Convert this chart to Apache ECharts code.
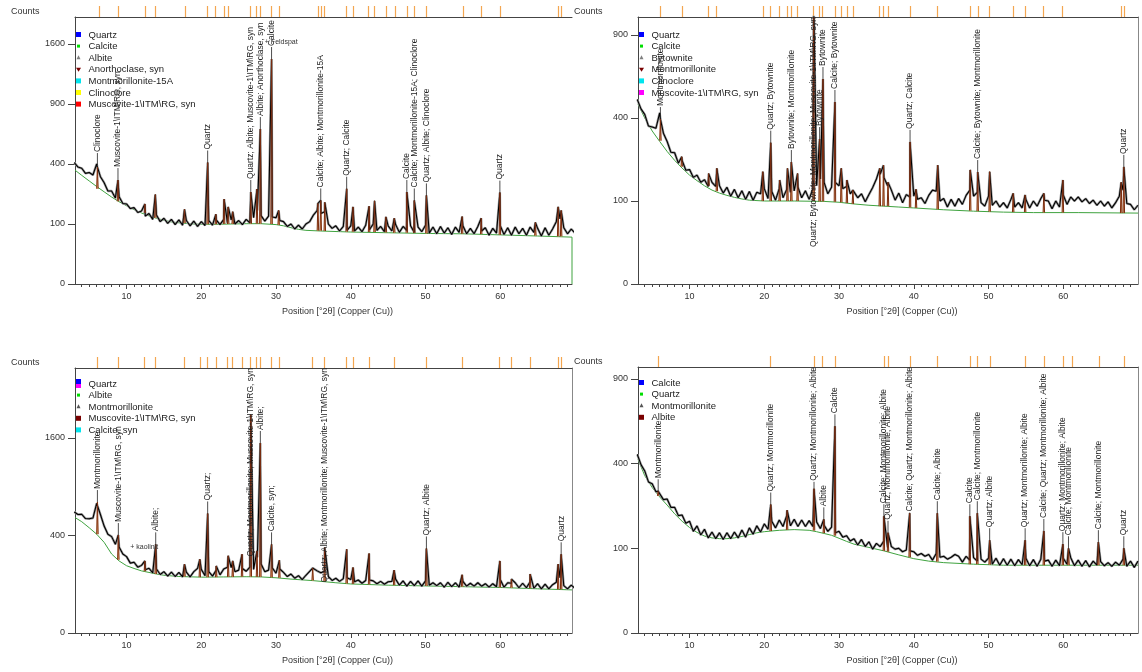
<!DOCTYPE html>
<html>
<head>
<meta charset="utf-8">
<title>XRD patterns</title>
<script src="https://cdn.jsdelivr.net/npm/echarts@6/dist/echarts.min.js"></script>
<style>
  html, body { margin: 0; padding: 0; background: #fff; }
  #chart { width: 1142px; height: 672px; }
</style>
</head>
<body>
<div id="chart"></div>
<script>
// ---- data -------------------------------------------------------------
// measured profiles, one value every 0.5 deg from 3.0 to 70.0 deg 2theta (counts)
var profileStart = 3.0, profileStep = 0.5;

var profile1 = [
  410, 380, 372, 340, 345, 330, 400, 320, 285, 240,
  240, 205, 212, 180, 178, 158, 162, 142, 148, 128,
  138, 116, 132, 108, 120, 102, 116, 98, 114, 96,
  112, 94, 110, 92, 108, 95, 112, 96, 114, 98,
  116, 104, 114, 100, 112, 98, 116, 104, 122, 150,
  130, 110, 128, 125, 122, 112, 108, 92, 100, 84,
  96, 84, 100, 108, 132, 150, 138, 145, 100, 86,
  94, 78, 92, 80, 94, 78, 90, 76, 96, 82,
  100, 80, 92, 76, 94, 78, 98, 74, 92, 80,
  94, 74, 90, 76, 96, 72, 90, 70, 92, 72,
  88, 68, 90, 74, 94, 70, 86, 70, 92, 78,
  88, 66, 86, 72, 94, 68, 88, 66, 90, 70,
  86, 66, 90, 74, 86, 64, 88, 66, 84, 108,
  118, 88, 70, 84, 72
];
var profile2 = [
  495, 445, 418, 362, 358, 352, 425, 330, 295, 252,
  250, 212, 222, 188, 190, 165, 172, 150, 158, 138,
  150, 138, 140, 120, 136, 112, 130, 108, 126, 104,
  124, 102, 122, 118, 132, 106, 124, 102, 132, 108,
  130, 122, 126, 136, 108, 126, 104, 132, 140, 160,
  150, 118, 136, 150, 140, 132, 138, 118, 132, 108,
  118, 98, 116, 135, 160, 175, 165, 140, 128, 102,
  120, 96, 116, 110, 112, 104, 108, 94, 114, 128,
  125, 100, 106, 86, 104, 88, 106, 92, 114, 128,
  112, 122, 96, 88, 112, 90, 100, 86, 96, 84,
  104, 86, 96, 84, 104, 84, 100, 88, 106, 102,
  100, 82, 100, 86, 115, 92, 110, 100, 110, 98,
  106, 94, 102, 90, 100, 88, 98, 84, 96, 112,
  128, 94, 92, 80, 90
];
var profile3 = [
  615, 590, 592, 550, 548, 555, 705, 590, 480, 410,
  390, 330, 310, 262, 245, 205, 210, 182, 192, 168,
  176, 152, 172, 144, 158, 136, 156, 134, 154, 132,
  156, 132, 158, 175, 170, 138, 158, 136, 166, 142,
  172, 182, 180, 158, 166, 175, 160, 182, 170, 240,
  200, 158, 166, 178, 150, 172, 154, 134, 146, 126,
  138, 120, 140, 160, 178, 162, 152, 160, 134, 116,
  126, 112, 124, 128, 120, 110, 118, 104, 116, 118,
  114, 102, 112, 100, 110, 112, 122, 96, 114, 92,
  112, 94, 114, 92, 114, 96, 106, 94, 106, 88,
  108, 90, 106, 88, 112, 92, 104, 92, 106, 92,
  102, 88, 102, 90, 120, 88, 106, 104, 106, 86,
  104, 86, 110, 84, 102, 82, 100, 82, 98, 108,
  128, 94, 82, 96, 84
];
var profile4 = [
  445, 395, 366, 318, 310, 278, 276, 248, 250, 220,
  220, 192, 194, 168, 174, 144, 160, 134, 150, 126,
  142, 124, 140, 122, 140, 124, 142, 126, 148, 128,
  154, 136, 160, 142, 166, 150, 174, 154, 178, 158,
  192, 160, 180, 158, 178, 158, 176, 158, 172, 152,
  162, 144, 156, 140, 144, 128, 132, 118, 124, 108,
  122, 104, 116, 98, 112, 104, 118, 102, 104, 98,
  100, 92, 96, 94, 92, 84, 88, 82, 86, 74,
  88, 80, 82, 76, 80, 86, 82, 70, 82, 74,
  79, 72, 76, 70, 78, 66, 78, 64, 77, 64,
  76, 63, 75, 65, 78, 63, 75, 62, 76, 72,
  74, 62, 74, 63, 78, 66, 79, 63, 74, 62,
  73, 61, 72, 64, 71, 63, 69, 62, 70, 64,
  76, 62, 72, 60, 72
];

// fitted background [deg, counts]
var bg1 = [[3.1, 360], [4, 328], [5, 295], [6, 264], [7, 236], [8, 210], [9, 188], [10, 170], [11, 154], [12, 140],
  [13, 129], [14, 120], [15, 113], [16, 107], [17, 104], [18, 102], [19, 100], [20, 99], [22, 99], [24, 100],
  [26, 101], [28, 101], [30, 98], [31, 94], [32, 88], [33, 83], [34, 80], [36, 78], [40, 75], [45, 73],
  [50, 71], [55, 70], [60, 67], [65, 64], [69.6, 61], [69.6, 0]];
var bg2 = [[3.1, 470], [4, 400], [5, 340], [6, 295], [7, 255], [8, 222], [9, 195], [10, 172], [11, 155], [12, 140],
  [13, 128], [14, 120], [15, 114], [16, 109], [17, 105], [18, 102], [20, 100], [24, 100], [28, 99], [30, 97],
  [32, 93], [34, 90], [36, 88], [38, 86], [40, 84], [44, 80], [48, 77], [52, 75], [56, 74], [62, 74], [70, 73]];
var bg3 = [[3.1, 560], [4, 520], [5, 465], [6, 410], [7, 345], [8, 262], [9, 218], [10, 190], [11, 175], [12, 162],
  [13, 154], [14, 146], [15, 140], [17, 134], [20, 131], [23, 132], [26, 133], [28, 132], [30, 128], [32, 122],
  [35, 115], [38, 106], [40, 101], [45, 96], [50, 93], [55, 90], [60, 87], [65, 82], [69.6, 78]];
var bg4 = [[3.1, 420], [4, 345], [5, 295], [6, 258], [7, 228], [8, 198], [9, 174], [10, 155], [11, 141], [12, 131],
  [13, 126], [14, 124], [15, 124], [16, 126], [17, 130], [18, 135], [19, 140], [20, 143], [22, 147], [24, 149],
  [26, 147], [27, 143], [28, 138], [29, 133], [30, 125], [31, 117], [32, 110], [34, 102], [36, 94], [38, 85],
  [40, 77], [42, 72], [44, 69], [48, 66], [52, 64], [60, 64], [70, 64]];

// peak list [deg, background counts, peak counts]
var peaks1 = [[6.1, 252, 380], [8.85, 190, 300], [12.45, 140, 178], [13.85, 122, 222], [17.75, 103, 155],
  [20.85, 99, 410], [21.95, 99, 135], [23.05, 100, 200], [23.6, 100, 165], [24.2, 100, 145],
  [26.62, 101, 235], [27.45, 101, 250], [27.9, 101, 667], [29.4, 100, 1406], [30.35, 97, 150],
  [35.6, 79, 180], [35.98, 79, 194], [36.52, 78, 185], [39.45, 76, 252], [40.3, 76, 165],
  [42.45, 75, 168], [43.18, 75, 192], [44.7, 74, 125], [45.82, 73, 120], [47.5, 73, 235],
  [48.5, 72, 194], [50.12, 71, 218], [54.9, 70, 126], [57.45, 69, 120], [59.95, 67, 232],
  [64.7, 65, 105], [67.75, 63, 165], [68.15, 63, 150]];
var peaks2 = [[6.1, 298, 395], [8.95, 200, 235], [12.55, 140, 177], [13.65, 125, 194], [19.8, 100, 183],
  [20.86, 100, 290], [22.05, 100, 157], [23.1, 100, 194], [23.62, 100, 216], [24.45, 100, 177],
  [26.6, 100, 1200], [27.4, 99, 305], [27.85, 99, 610], [29.45, 98, 481], [30.3, 97, 194],
  [31.05, 95, 157], [31.85, 93, 128], [35.45, 88, 194], [35.95, 88, 205], [36.55, 88, 150],
  [39.5, 85, 293], [40.3, 84, 130], [43.2, 81, 205], [47.55, 78, 189], [48.55, 77, 182],
  [50.15, 76, 183], [53.3, 75, 119], [54.9, 75, 115], [57.4, 74, 119], [59.95, 74, 157],
  [67.75, 73, 150], [68.1, 73, 199]];
var peaks3 = [[6.1, 410, 720], [8.9, 225, 403], [12.45, 160, 218], [13.9, 146, 330], [17.75, 134, 199],
  [19.8, 131, 228], [20.85, 131, 600], [22.0, 131, 189], [23.6, 132, 250], [24.2, 132, 218],
  [25.45, 133, 260], [26.62, 133, 2000], [27.45, 132, 283], [27.9, 132, 1516], [29.4, 130, 330],
  [30.45, 128, 222], [34.9, 116, 177], [36.5, 113, 306], [39.45, 103, 294], [40.3, 101, 180],
  [42.45, 99, 265], [45.8, 96, 166], [50.12, 93, 300], [54.9, 90, 142], [59.95, 87, 218],
  [61.5, 86, 122], [64.0, 84, 146], [67.75, 80, 199], [68.15, 80, 260]];
var peaks4 = [[5.8, 262, 280], [20.86, 145, 230], [23.05, 148, 210], [26.65, 146, 290], [27.96, 139, 180],
  [29.45, 132, 595], [36.0, 94, 190], [36.55, 92, 140], [39.45, 80, 200], [43.15, 71, 200],
  [47.5, 66, 190], [48.5, 66, 200], [50.15, 65, 120], [54.9, 64, 120], [57.4, 64, 145],
  [59.95, 64, 110], [60.7, 64, 100], [64.7, 64, 115], [68.1, 64, 100]];

// peak labels [deg, peak counts, text]
var labels1 = [[6.1, 393, 'Clinoclore'], [8.85, 300, 'Muscovite-1\\ITM\\RG, syn'], [20.85, 410, 'Quartz'],
  [26.62, 235, 'Quartz; Albite; Muscovite-1\\ITM\\RG, syn'], [27.9, 667, 'Albite; Anorthoclase, syn'],
  [29.4, 1406, 'Calcite'], [35.98, 194, 'Calcite; Albite; Montmorillonite-15A'], [39.45, 252, 'Quartz; Calcite'],
  [47.5, 235, 'Calcite'], [48.5, 194, 'Calcite; Montmorillonite-15A; Clinoclore'],
  [50.12, 218, 'Quartz; Albite; Clinoclore'], [59.95, 232, 'Quartz']];
var labels2 = [[6.1, 395, 'Montmorillonite'], [20.86, 290, 'Quartz; Bytownite'],
  [23.62, 216, 'Bytownite; Montmorillonite'],
  [26.6, 1200, 'Quartz; Bytownite; Montmorillonite; Muscovite-1\\ITM\\RG, syn'],
  [27.4, 305, 'Bytownite'], [27.85, 610, 'Bytownite'], [29.45, 481, 'Calcite; Bytownite'],
  [39.5, 293, 'Quartz; Calcite'], [48.55, 182, 'Calcite; Bytownite; Montmorillonite'], [68.1, 199, 'Quartz']];
var labels3 = [[6.1, 720, 'Montmorillonite'], [8.9, 403, 'Muscovite-1\\ITM\\RG, syn'], [13.9, 330, 'Albite;'],
  [20.85, 600, 'Quartz;'], [26.62, 2000, 'Quartz; Montmorillonite; Muscovite-1\\ITM\\RG, syn'],
  [27.9, 1516, 'Albite;'], [29.4, 330, 'Calcite, syn;'],
  [36.5, 306, 'Quartz; Albite; Montmorillonite; Muscovite-1\\ITM\\RG, syn'],
  [50.12, 300, 'Quartz; Albite'], [68.15, 260, 'Quartz']];
var labels4 = [[5.8, 280, 'Montmorillonite'], [20.86, 230, 'Quartz; Montmorillonite'],
  [26.65, 290, 'Quartz; Montmorillonite; Albite'], [27.96, 180, 'Albite'], [29.45, 595, 'Calcite'],
  [36.0, 190, 'Calcite; Montmorillonite; Albite'], [36.55, 140, 'Quartz; Montmorillonite; Albite'],
  [39.45, 200, 'Calcite; Quartz; Montmorillonite; Albite'], [43.15, 200, 'Calcite; Albite'],
  [47.5, 190, 'Calcite'], [48.5, 200, 'Calcite; Montmorillonite'], [50.15, 120, 'Quartz; Albite'],
  [54.9, 120, 'Quartz; Montmorillonite; Albite'], [57.4, 145, 'Calcite; Quartz; Montmorillonite; Albite'],
  [59.95, 110, 'Quartz; Montmorillonite; Albite'], [60.7, 100, 'Calcite; Montmorillonite'],
  [64.7, 115, 'Calcite; Montmorillonite'], [68.1, 100, 'Quartz']];

// hand-written notes [deg, counts, text]
var notes1 = [[28.5, 1627, '+ Feldspat']];
var notes3 = [[10.5, 313, '+ kaolinit']];

// reference line positions drawn above each plot
var refTicks1 = [6.3, 8.9, 12.5, 13.9, 17.8, 20.85, 21.9, 23.05, 23.6, 26.6, 27.4, 27.9, 29.4, 30.4,
  35.6, 36.0, 36.5, 39.4, 40.3, 42.4, 43.2, 44.7, 45.9, 47.5, 48.5, 50.1, 55.0, 57.5, 59.95, 67.8, 68.1];
var refTicks2 = [6.13, 8.98, 12.5, 13.6, 19.8, 20.86, 22.0, 23.1, 23.6, 24.4, 26.6, 27.4, 27.8, 29.45,
  30.3, 31.05, 31.85, 35.4, 35.95, 36.55, 39.5, 43.2, 47.5, 48.6, 50.1, 53.3, 54.9, 57.35, 59.9, 67.7, 68.1];
var refTicks3 = [6.1, 8.95, 12.4, 13.85, 17.75, 19.8, 20.85, 22.0, 23.5, 24.2, 25.45, 26.6, 27.4, 27.85,
  29.4, 30.45, 34.9, 36.5, 39.45, 40.3, 42.45, 45.8, 50.1, 54.85, 59.9, 61.5, 64.0, 67.75, 68.1];
var refTicks4 = [5.8, 20.86, 26.65, 27.7, 29.45, 36.0, 36.55, 39.5, 43.2, 47.6, 48.5, 50.2, 54.9, 57.5,
  60.05, 61.25, 64.75, 68.2];

// axis tick labels
var xTickLabels = [10, 20, 30, 40, 50, 60];
var yTickLabels1 = [0, 100, 400, 900, 1600];
var yTickLabels2 = [0, 100, 400, 900];
var yTickLabels3 = [0, 400, 1600];
var yTickLabels4 = [0, 100, 400, 900];

// legends
var legend1 = ['Quartz', 'Calcite', 'Albite', 'Anorthoclase, syn', 'Montmorillonite-15A', 'Clinoclore', 'Muscovite-1\\ITM\\RG, syn'];
var legend2 = ['Quartz', 'Calcite', 'Bytownite', 'Montmorillonite', 'Clinoclore', 'Muscovite-1\\ITM\\RG, syn'];
var legend3 = ['Quartz', 'Albite', 'Montmorillonite', 'Muscovite-1\\ITM\\RG, syn', 'Calcite, syn'];
var legend4 = ['Calcite', 'Quartz', 'Montmorillonite', 'Albite'];

// ---- styles -------------------------------------------------------------
var FONT = '"Liberation Sans", Arial, sans-serif';
var LBL_FONT = '8.5px ' + FONT;
var markers1 = [['#0000ff', 'sq'], ['#00dd00', 'dot'], ['#7f7f7f', 'tri'], ['#7a0000', 'down'], ['#00e5ee', 'sq'], ['#ffff00', 'sq'], ['#ff0000', 'sq']];
var markers2 = [['#0000ff', 'sq'], ['#00dd00', 'dot'], ['#7f7f7f', 'tri'], ['#7a0000', 'down'], ['#00e5ee', 'sq'], ['#ff00ff', 'sq']];
var markers3 = [['#0000ff', 'pair'], ['#00dd00', 'dot'], ['#555555', 'tri'], ['#7a0000', 'sq'], ['#00e5ee', 'sq']];
var markers4 = [['#0000ff', 'sq'], ['#00dd00', 'dot'], ['#555555', 'tri'], ['#7a0000', 'sq']];

var panels = [
  { box: [75, 17, 497, 267], xMax: 69.6, yMax: 44.5, profile: profile1, bg: bg1, peaks: peaks1, labels: labels1,
    notes: notes1, ref: refTicks1, yTicks: yTickLabels1, legend: legend1, markers: markers1, rightLine: false, legendTop: 18 },
  { box: [638, 17, 500, 267], xMax: 70.0, yMax: 32.17, profile: profile2, bg: bg2, peaks: peaks2, labels: labels2,
    notes: [], ref: refTicks2, yTicks: yTickLabels2, legend: legend2, markers: markers2, rightLine: true, legendTop: 18 },
  { box: [75, 368, 497, 265], xMax: 69.6, yMax: 54.3, profile: profile3, bg: bg3, peaks: peaks3, labels: labels3,
    notes: notes3, ref: refTicks3, yTicks: yTickLabels3, legend: legend3, markers: markers3, rightLine: true, legendTop: 16 },
  { box: [638, 367, 500, 266], xMax: 70.0, yMax: 31.4, profile: profile4, bg: bg4, peaks: peaks4, labels: labels4,
    notes: [], ref: refTicks4, yTicks: yTickLabels4, legend: legend4, markers: markers4, rightLine: true, legendTop: 16 }
];

var minorTicks = [];
for (var d = 4; d <= 69; d++) { if (d % 10 !== 0) minorTicks.push(d); }

var mctx = document.createElement('canvas').getContext('2d');
function textWidth(t) { mctx.font = LBL_FONT; return mctx.measureText(t).width; }

function profilePoints(profile, peaks) {
  var pts = profile.map(function (v, i) { return [profileStart + i * profileStep, v]; });
  peaks.forEach(function (p) { pts.push([p[0], p[2]]); });
  pts.sort(function (a, b) { return a[0] - b[0]; });
  return pts.map(function (p) { return [p[0], Math.sqrt(p[1])]; });
}

var option = { animation: false, backgroundColor: '#fff', grid: [], xAxis: [], yAxis: [], series: [], graphic: [] };

panels.forEach(function (P, i) {
  option.grid.push({ left: P.box[0], top: P.box[1], width: P.box[2], height: P.box[3] });
  var xBase = { type: 'value', gridIndex: i, min: 3.1, max: P.xMax, splitLine: { show: false } };
  option.xAxis.push(Object.assign({}, xBase, {
    position: 'bottom',
    axisLine: { show: true, onZero: false, lineStyle: { color: '#444' } },
    axisTick: { show: true, customValues: xTickLabels, length: 5, lineStyle: { color: '#444' } },
    axisLabel: { show: true, customValues: xTickLabels, fontSize: 9, fontFamily: FONT, color: '#333', margin: 8 },
    name: 'Position [°2θ] (Copper (Cu))', nameLocation: 'middle', nameGap: 23,
    nameTextStyle: { fontSize: 9, fontFamily: FONT, color: '#333', padding: [0, 0, 0, 28] }
  }));
  option.xAxis.push(Object.assign({}, xBase, {
    position: 'bottom', axisLine: { show: false },
    axisTick: { show: true, customValues: minorTicks, length: 3, lineStyle: { color: '#444' } },
    axisLabel: { show: false }
  }));
  option.xAxis.push(Object.assign({}, xBase, {
    position: 'top',
    axisLine: { show: true, onZero: false, lineStyle: { color: '#444' } },
    axisTick: { show: true, customValues: P.ref, length: 11, lineStyle: { color: '#f3a650', width: 1.2 } },
    axisLabel: { show: false }
  }));
  var ySq = P.yTicks.map(Math.sqrt);
  option.yAxis.push({
    type: 'value', gridIndex: i, min: 0, max: P.yMax, position: 'left', splitLine: { show: false },
    axisLine: { show: true, onZero: false, lineStyle: { color: '#444' } },
    axisTick: { show: true, customValues: ySq, length: 7, lineStyle: { color: '#444' } },
    axisLabel: { show: true, customValues: ySq, fontSize: 9, fontFamily: FONT, color: '#333', margin: 10,
      formatter: function (v) { return String(Math.round(v * v)); } }
  });
  option.yAxis.push({
    type: 'value', gridIndex: i, min: 0, max: P.yMax, position: 'right', splitLine: { show: false },
    axisLine: { show: P.rightLine, lineStyle: { color: '#888' } }, axisTick: { show: false }, axisLabel: { show: false }
  });
  var xi = i * 3, yi = i * 2;

  option.series.push({
    type: 'line', xAxisIndex: xi, yAxisIndex: yi, symbol: 'none', silent: true, z: 2,
    lineStyle: { color: '#3fa33f', width: 1 },
    data: P.bg.map(function (p) { return [p[0], Math.sqrt(p[1])]; })
  });
  var pk = P.peaks.map(function (p) { return [p[0], Math.sqrt(p[1]), Math.sqrt(p[2])]; });
  // orange peak-list sticks, under the measured profile
  option.series.push({
    type: 'custom', xAxisIndex: xi, yAxisIndex: yi, silent: true, clip: true, z: 3, data: pk,
    renderItem: function (params, api) {
      var a = api.coord([api.value(0), api.value(1)]), c = api.coord([api.value(0), api.value(2)]);
      return { type: 'line', shape: { x1: a[0], y1: a[1], x2: c[0], y2: c[1] }, style: { stroke: '#f4b06a', lineWidth: 1.3 } };
    }
  });
  var prof = profilePoints(P.profile, P.peaks);
  option.series.push({
    type: 'line', xAxisIndex: xi, yAxisIndex: yi, symbol: 'none', silent: true, z: 4,
    lineStyle: { color: '#9c9c9c', width: 2.4 }, data: prof
  });
  option.series.push({
    type: 'line', xAxisIndex: xi, yAxisIndex: yi, symbol: 'none', silent: true, z: 5,
    lineStyle: { color: '#000', width: 1.1 }, data: prof
  });
  option.series.push({
    type: 'custom', xAxisIndex: xi, yAxisIndex: yi, silent: true, clip: true, z: 6, data: pk,
    renderItem: function (params, api) {
      var x = api.value(0), b = api.value(1), t = api.value(2);
      return { type: 'polyline', shape: { points: [api.coord([x - 0.1, b]), api.coord([x, t]), api.coord([x + 0.1, b])] },
        style: { stroke: '#7a2c10', lineWidth: 1, fill: null } };
    }
  });
  var labs = P.labels;
  option.series.push({
    type: 'custom', xAxisIndex: xi, yAxisIndex: yi, silent: true, clip: false, z: 7,
    data: labs.map(function (l) { return [l[0], Math.sqrt(l[1])]; }),
    renderItem: function (params, api) {
      var txt = labs[params.dataIndex][2];
      var p = api.coord([api.value(0), api.value(1)]);
      var top = params.coordSys.y;
      var w = textWidth(txt);
      var start = p[1] - 12;
      if (start - w < top + 1) start = top + 1 + w;
      var kids = [];
      if (start < p[1]) kids.push({ type: 'line', shape: { x1: p[0], y1: p[1], x2: p[0], y2: start }, style: { stroke: '#222', lineWidth: 0.8 } });
      kids.push({ type: 'text', x: p[0], y: start - 1, rotation: Math.PI / 2,
        style: { text: txt, font: LBL_FONT, fill: '#1e1e1e', align: 'left', verticalAlign: 'middle' } });
      return { type: 'group', children: kids };
    }
  });
  var nts = P.notes;
  if (nts.length) {
    option.series.push({
      type: 'custom', xAxisIndex: xi, yAxisIndex: yi, silent: true, clip: false, z: 7,
      data: nts.map(function (n) { return [n[0], Math.sqrt(n[1])]; }),
      renderItem: function (params, api) {
        var p = api.coord([api.value(0), api.value(1)]);
        return { type: 'text', x: p[0], y: p[1],
          style: { text: nts[params.dataIndex][2], font: '7px ' + FONT, fill: '#333', align: 'left', verticalAlign: 'middle' } };
      }
    });
  }

  // "Counts" title and legend
  var gl = P.box[0], gt = P.box[1];
  option.graphic.push({ type: 'text', x: gl - 64, y: gt - 5, silent: true,
    style: { text: 'Counts', font: '9px ' + FONT, fill: '#333', verticalAlign: 'middle' } });
  P.legend.forEach(function (name, k) {
    var cy = gt + P.legendTop + k * 11.6, mx = gl + 3.5;
    var m = P.markers[k], col = m[0];
    if (m[1] === 'sq') option.graphic.push({ type: 'rect', silent: true, shape: { x: mx - 2.5, y: cy - 3, width: 5, height: 5 }, style: { fill: col } });
    if (m[1] === 'pair') {
      option.graphic.push({ type: 'rect', silent: true, shape: { x: mx - 2.5, y: cy - 5, width: 5, height: 5 }, style: { fill: col } });
      option.graphic.push({ type: 'rect', silent: true, shape: { x: mx - 2.5, y: cy, width: 5, height: 4 }, style: { fill: '#ff00ff' } });
    }
    if (m[1] === 'dot') option.graphic.push({ type: 'rect', silent: true, shape: { x: mx - 1.5, y: cy - 2, width: 3, height: 3 }, style: { fill: col } });
    if (m[1] === 'tri') option.graphic.push({ type: 'polygon', silent: true, shape: { points: [[mx, cy - 3], [mx - 2, cy + 1], [mx + 2, cy + 1]] }, style: { fill: col } });
    if (m[1] === 'down') option.graphic.push({ type: 'polygon', silent: true, shape: { points: [[mx - 2.5, cy - 2], [mx + 2.5, cy - 2], [mx, cy + 2]] }, style: { fill: col } });
    option.graphic.push({ type: 'text', silent: true, x: gl + 13.5, y: cy,
      style: { text: name, font: '9.5px ' + FONT, fill: '#222', verticalAlign: 'middle' } });
  });
});

var chart = echarts.init(document.getElementById('chart'));
chart.setOption(option);
window.addEventListener('resize', function () { chart.resize(); });
</script>
</body>
</html>
